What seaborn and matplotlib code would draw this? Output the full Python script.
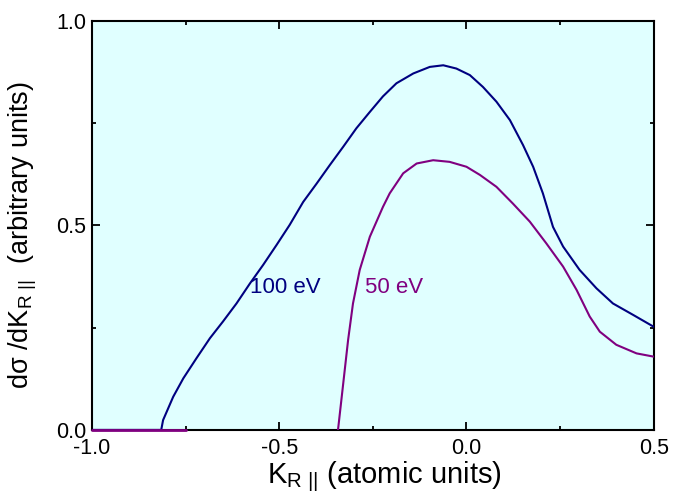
import numpy as np
import pandas as pd
import matplotlib
matplotlib.use("Agg")
import matplotlib.pyplot as plt
import seaborn as sns
from matplotlib.ticker import MultipleLocator, FormatStrFormatter

# 100 eV curve
k_100 = [-1.0, -0.815, -0.810, -0.783, -0.756, -0.721, -0.685, -0.650, -0.614, -0.578,
         -0.543, -0.507, -0.472, -0.436, -0.400, -0.365, -0.329, -0.294, -0.258,
         -0.223, -0.187, -0.142, -0.098, -0.062, -0.027, 0.009, 0.044, 0.080,
         0.116, 0.151, 0.178, 0.204, 0.231, 0.258, 0.302, 0.347, 0.391, 0.445, 0.500]
s_100 = [0.0, 0.0, 0.024, 0.081, 0.126, 0.175, 0.224, 0.265, 0.309, 0.358,
         0.403, 0.452, 0.501, 0.557, 0.602, 0.647, 0.692, 0.737, 0.777,
         0.815, 0.847, 0.871, 0.887, 0.891, 0.883, 0.867, 0.838, 0.802,
         0.757, 0.696, 0.643, 0.578, 0.496, 0.448, 0.391, 0.346, 0.309, 0.281, 0.252]

# 50 eV curve
k_50 = [-0.343, -0.329, -0.316, -0.303, -0.285, -0.258, -0.223, -0.205, -0.169,
        -0.133, -0.089, -0.045, 0.0, 0.036, 0.080, 0.124, 0.169, 0.213, 0.258,
        0.294, 0.329, 0.356, 0.400, 0.454, 0.500]
s_50 = [0.0, 0.114, 0.220, 0.309, 0.391, 0.472, 0.545, 0.578, 0.627,
        0.651, 0.659, 0.655, 0.643, 0.623, 0.594, 0.553, 0.509, 0.456, 0.399,
        0.342, 0.277, 0.240, 0.208, 0.187, 0.179]
# short zero stretch of the 50 eV trace visible at the left end
k_50_base = [-1.0, -0.75]
s_50_base = [0.0, 0.0]

labels = ["100 eV", "50 eV"]
label_x = [-0.578, -0.271]
label_y = [0.347, 0.347]
colors = ["#000080", "#800080"]

sns.set_style("ticks")
plt.rcParams["font.family"] = ["Liberation Sans", "DejaVu Sans"]
plt.rcParams["mathtext.fontset"] = "custom"
plt.rcParams["mathtext.rm"] = "Liberation Sans"
plt.rcParams["mathtext.it"] = "Liberation Sans:italic"
plt.rcParams["text.color"] = "black"
plt.rcParams["axes.labelcolor"] = "black"
plt.rcParams["xtick.color"] = "black"
plt.rcParams["ytick.color"] = "black"

fig = plt.figure(figsize=(6.86, 5.04), dpi=100)
ax = fig.add_axes([0.134, 0.147, 0.819, 0.812])
ax.set_facecolor("#E0FFFF")

df100 = pd.DataFrame({"k": k_100, "s": s_100})
df50 = pd.DataFrame({"k": k_50, "s": s_50})
dfb = pd.DataFrame({"k": k_50_base, "s": s_50_base})

line_kw = dict(sort=False, estimator=None, ax=ax, solid_joinstyle="round")
sns.lineplot(data=df100, x="k", y="s", color=colors[0], lw=1.5, zorder=3, **line_kw)
sns.lineplot(data=df50, x="k", y="s", color=colors[1], lw=1.5, zorder=3, **line_kw)
sns.lineplot(data=dfb, x="k", y="s", color=colors[1], lw=2, zorder=4,
             clip_on=False, **line_kw)

for lab, x, y, c in zip(labels, label_x, label_y, colors):
    ax.text(x, y, lab, color=c, fontsize=16, ha="left", va="center")

ax.set_xlim(-1.0, 0.5)
ax.set_ylim(0.0, 1.0)
ax.xaxis.set_major_locator(MultipleLocator(0.5))
ax.xaxis.set_minor_locator(MultipleLocator(0.25))
ax.yaxis.set_major_locator(MultipleLocator(0.5))
ax.yaxis.set_minor_locator(MultipleLocator(0.25))
ax.xaxis.set_major_formatter(FormatStrFormatter("%.1f"))
ax.yaxis.set_major_formatter(FormatStrFormatter("%.1f"))

ax.tick_params(which="both", direction="in", top=True, right=True, width=1.3,
               color="black", labelcolor="black")
ax.tick_params(which="major", length=5.5, labelsize=15.5)
ax.tick_params(which="minor", length=3)
ax.tick_params(axis="x", which="major", pad=6)
ax.tick_params(axis="y", which="major", pad=4)
for sp in ax.spines.values():
    sp.set_linewidth(1.5)
    sp.set_color("black")
    sp.set_visible(True)

ax.set_xlabel(r"K$_{\mathrm{R\ ||}}$ (atomic units)", fontsize=21)
ax.set_ylabel("d\u03c3 /dK$_{\\mathrm{R\\ ||}}$  (arbitrary units)", fontsize=19.5)
ax.xaxis.set_label_coords(0.52, -0.072)
ax.yaxis.set_label_coords(-0.095, 0.477)

fig.savefig("out.png", dpi=100)
